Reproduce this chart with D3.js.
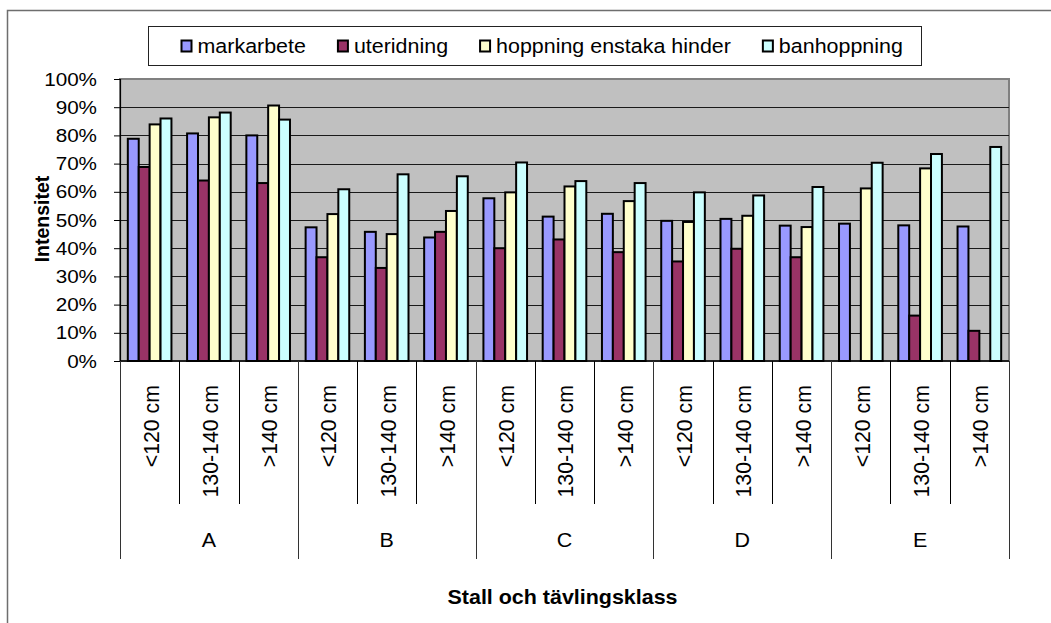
<!DOCTYPE html>
<html>
<head>
<meta charset="utf-8">
<script src="https://cdn.jsdelivr.net/npm/d3@7"></script>
<style>
  html, body { margin: 0; padding: 0; background: #fff; }
  svg { display: block; }
  text { font-family: "Liberation Sans", Arial, sans-serif; fill: #000; }
</style>
</head>
<body>
<svg id="chart" width="1051" height="623"></svg>
<script>
// ---- data ----
const stables = ["A", "B", "C", "D", "E"];
const classes = ["<120 cm", "130-140 cm", ">140 cm"];
const seriesNames = ["markarbete", "uteridning", "hoppning enstaka hinder", "banhoppning"];
const markarbete = [78.8, 80.7, 80.0, 47.4, 45.8, 43.8, 57.7, 51.2, 52.2, 49.7, 50.4, 48.0, 48.7, 48.1, 47.7];
const uteridning = [68.8, 64.0, 63.1, 36.8, 33.0, 45.8, 40.0, 43.1, 38.6, 35.3, 39.8, 36.8, null, 16.1, 10.7];
const hoppning = [83.9, 86.4, 90.6, 52.1, 45.0, 53.2, 59.8, 61.9, 56.7, 49.3, 51.5, 47.5, 61.2, 68.3, null];
const banhoppning = [86.0, 88.1, 85.6, 60.9, 66.2, 65.5, 70.4, 63.8, 63.1, 59.8, 58.7, 61.7, 70.3, 73.4, 75.9];
const yTicks = [0, 10, 20, 30, 40, 50, 60, 70, 80, 90, 100];
const yTitle = "Intensitet";
const xTitle = "Stall och tävlingsklass";

// ---- layout / style ----
const colors = ["#9999ff", "#993366", "#ffffcc", "#ccffff"];
const seriesVals = [markarbete, uteridning, hoppning, banhoppning];
const P = { left: 120, top: 79, right: 1009, bottom: 361 };
const SX = 1.1; // horizontal stretch of text to mimic source rendering

const svg = d3.select("#chart");

// outer chart border
svg.append("rect")
  .attr("x", 7.5).attr("y", 10.5)
  .attr("width", 1100).attr("height", 700)
  .attr("fill", "#fff").attr("stroke", "#6e6e6e").attr("stroke-width", 1.5);

const cats = d3.range(stables.length * classes.length);
const x0 = d3.scaleBand().domain(cats).range([P.left, P.right])
  .paddingInner(0.264).paddingOuter(0.132);
const x1 = d3.scaleBand().domain(d3.range(seriesNames.length)).range([0, x0.bandwidth()]);
const y = d3.scaleLinear().domain([0, 100]).range([P.bottom, P.top]);

// plot background
svg.append("rect")
  .attr("x", P.left).attr("y", P.top)
  .attr("width", P.right - P.left).attr("height", P.bottom - P.top)
  .attr("fill", "#c0c0c0").attr("stroke", "#808080").attr("stroke-width", 2);

// gridlines
svg.append("g").selectAll("line")
  .data(yTicks.filter(v => v > 0 && v < 100))
  .join("line")
  .attr("x1", P.left).attr("x2", P.right)
  .attr("y1", d => Math.round(y(d)) + 0.5).attr("y2", d => Math.round(y(d)) + 0.5)
  .attr("stroke", "#1a1a1a").attr("stroke-width", 1);

// bars
const barG = svg.append("g");
cats.forEach(i => {
  seriesVals.forEach((arr, s) => {
    const v = arr[i];
    if (v == null) return;
    barG.append("rect")
      .attr("x", x0(i) + x1(s))
      .attr("y", y(v))
      .attr("width", x1.bandwidth())
      .attr("height", y(0) - y(v))
      .attr("fill", colors[s])
      .attr("stroke", "#000")
      .attr("stroke-width", 2);
  });
});

// y axis
const yAxis = d3.axisLeft(y).tickValues(yTicks).tickSize(6).tickPadding(17)
  .tickFormat(d => d + "%");
const yg = svg.append("g").attr("transform", `translate(${P.left},0)`).call(yAxis);
yg.select(".domain").attr("stroke", "#000").attr("stroke-width", 1.2);
yg.selectAll(".tick line").attr("stroke", "#000");
yg.selectAll(".tick text")
  .attr("font-size", 18.8)
  .attr("font-family", '"Liberation Sans", Arial, sans-serif')
  .each(function () {
    const t = d3.select(this);
    const xx = +t.attr("x");
    t.attr("transform", `translate(${xx},0) scale(${SX},1)`).attr("x", 0);
  });

// x axis line
svg.append("line")
  .attr("x1", P.left).attr("x2", P.right)
  .attr("y1", P.bottom).attr("y2", P.bottom)
  .attr("stroke", "#000").attr("stroke-width", 1.5);

// category table lines
const step = x0.step();
d3.range(cats.length + 1).forEach(i => {
  const xx = Math.round(P.left + i * step) + 0.5;
  const isGroup = i % classes.length === 0;
  svg.append("line")
    .attr("x1", xx).attr("x2", xx)
    .attr("y1", P.bottom).attr("y2", isGroup ? 559 : 504)
    .attr("stroke", isGroup ? "#333" : "#000").attr("stroke-width", 1);
});

// subcategory labels (rotated)
cats.forEach(i => {
  const cx = x0(i) + x0.bandwidth() / 2 + 1;
  svg.append("text")
    .attr("transform", `translate(${cx},385) rotate(-90) scale(1.04,1.08)`)
    .attr("text-anchor", "end")
    .attr("dy", "0.36em")
    .attr("font-size", 20.5)
    .text(classes[i % classes.length]);
});

// group labels
stables.forEach((g, gi) => {
  const cx = P.left + (gi * classes.length + classes.length / 2) * step;
  svg.append("text")
    .attr("transform", `translate(${cx},547) scale(${SX},1)`)
    .attr("text-anchor", "middle")
    .attr("font-size", 19.5)
    .text(g);
});

// axis titles
svg.append("text")
  .attr("transform", `translate(${(P.left + P.right) / 2 - 2},604) scale(${SX},1)`)
  .attr("text-anchor", "middle")
  .attr("font-size", 19.5).attr("font-weight", "bold")
  .text(xTitle);

svg.append("text")
  .attr("transform", `translate(49,${(P.top + P.bottom) / 2 - 1}) rotate(-90) scale(1,1.08)`)
  .attr("text-anchor", "middle")
  .attr("font-size", 19.5).attr("font-weight", "bold")
  .text(yTitle);

// legend
const lg = svg.append("g");
const LX = 148.5, LW = 773;
lg.append("rect")
  .attr("x", LX).attr("y", 26.5).attr("width", LW).attr("height", 39)
  .attr("fill", "#fff").attr("stroke", "#222").attr("stroke-width", 1);
let cur = LX + 33;
seriesNames.forEach((name, s) => {
  const g = lg.append("g").attr("transform", `translate(${cur},0)`);
  g.append("rect")
    .attr("x", 0).attr("y", 40.5).attr("width", 10).attr("height", 11)
    .attr("fill", colors[s]).attr("stroke", "#000").attr("stroke-width", 2);
  const t = g.append("text")
    .attr("transform", `translate(16,53) scale(${SX},1.04)`)
    .attr("font-size", 19.5)
    .text(name);
  const w = t.node().getComputedTextLength() * SX;
  cur += 16 + w + 32;
});
</script>
</body>
</html>
